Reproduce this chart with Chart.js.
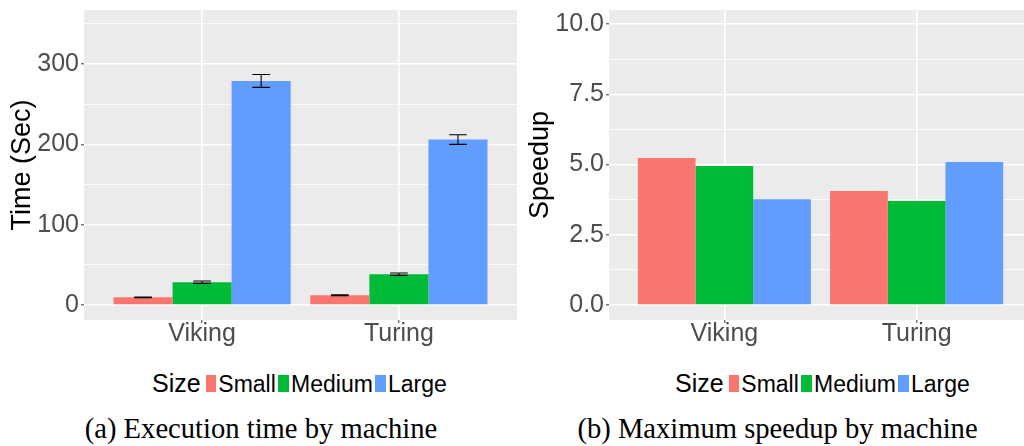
<!DOCTYPE html>
<html><head><meta charset="utf-8">
<script src="https://cdn.jsdelivr.net/npm/chart.js@4"></script>
<style>
html,body{margin:0;padding:0;background:#fff;width:1024px;height:446px;overflow:hidden;position:relative;font-family:"Liberation Sans",Arial,sans-serif}
canvas{position:absolute;top:0}
#c1{left:0}
#c2{left:520px}
.legend{position:absolute;top:371px;display:flex;align-items:baseline;line-height:1;white-space:nowrap;color:#000}
.legend .t{font-size:25px;margin-right:5px}
.legend .k{display:inline-block;width:10.7px;height:17px;margin-right:2px}
.legend .l{font-size:23px;margin-right:2.5px}
.cap{position:absolute;top:415.3px;font-family:"Liberation Serif","Times New Roman",serif;font-size:28.6px;line-height:1;white-space:nowrap;transform:translateX(-50%);color:#000}
</style></head><body>
<canvas id="c1" width="520" height="360"></canvas>
<canvas id="c2" width="520" height="360"></canvas>
<div class="legend" id="lg1" style="left:152px"></div>
<div class="legend" id="lg2" style="left:675px"></div>
<div class="cap" style="left:261px">(a) Execution time by machine</div>
<div class="cap" style="left:777.5px">(b) Maximum speedup by machine</div>
<script>
const machines = ['Viking', 'Turing'];
const sizes = ['Small', 'Medium', 'Large'];
const sizeColors = ['#F8766D', '#00BA38', '#619CFF'];
const legendTitle = 'Size';

const timeSmall = [9.6, 12.1];
const timeMedium = [28.4, 38.4];
const timeLarge = [279, 206];
const timeErrSmall = [0.4, 0.5];
const timeErrMedium = [1.5, 1.5];
const timeErrLarge = [8, 6];

const speedupSmall = [5.23, 4.06];
const speedupMedium = [4.95, 3.70];
const speedupLarge = [3.77, 5.09];

const timeTicks = [0, 50, 100, 150, 200, 250, 300, 350];
const timeTickLabels = ['0', '', '100', '', '200', '', '300', ''];
const speedupTicks = [0, 1.25, 2.5, 3.75, 5, 6.25, 7.5, 8.75, 10];
const speedupTickLabels = ['0.0', '', '2.5', '', '5.0', '', '7.5', '', '10.0'];

const FONT = '"Liberation Sans", Arial, sans-serif';

function panelBg() {
  return {
    id: 'panelBg',
    beforeDraw(chart) {
      const a = chart.chartArea, ctx = chart.ctx;
      ctx.save();
      ctx.fillStyle = '#EBEBEB';
      ctx.fillRect(a.left, a.top, a.right - a.left, a.bottom - a.top);
      ctx.restore();
    }
  };
}

function errorBarPlugin(errs) {
  return {
    id: 'errorBars',
    afterDatasetsDraw(chart) {
      if (!errs) return;
      const ctx = chart.ctx, y = chart.scales.y;
      ctx.save();
      ctx.strokeStyle = '#000';
      ctx.lineWidth = 1.1;
      chart.data.datasets.forEach((ds, di) => {
        const meta = chart.getDatasetMeta(di);
        meta.data.forEach((bar, i) => {
          const v = ds.data[i].y, e = errs[di][i];
          const x = bar.x, hw = bar.width * 0.15;
          const yt = y.getPixelForValue(v + e), yb = y.getPixelForValue(v - e);
          ctx.beginPath();
          ctx.moveTo(x - hw, yt); ctx.lineTo(x + hw, yt);
          ctx.moveTo(x, yt); ctx.lineTo(x, yb);
          ctx.moveTo(x - hw, yb); ctx.lineTo(x + hw, yb);
          ctx.stroke();
        });
      });
      ctx.restore();
    }
  };
}

function makeChart(id, series, errs, yMin, yMax, yTicks, yLabels, yTitle, padRight, yAxisWidth, titlePad) {
  const isMajor = (i) => yLabels[i] !== '';
  return new Chart(document.getElementById(id), {
    type: 'bar',
    data: {
      datasets: series.map((vals, si) => ({
        label: sizes[si],
        data: machines.map((m, i) => ({ x: i + 1, y: vals[i] })),
        backgroundColor: sizeColors[si],
        borderWidth: 0,
        categoryPercentage: 0.9,
        barPercentage: 1.0
      }))
    },
    options: {
      responsive: false,
      animation: false,
      devicePixelRatio: 1,
      layout: { padding: { left: 0, right: padRight, top: 10, bottom: 0 } },
      plugins: { legend: { display: false }, tooltip: { enabled: false } },
      scales: {
        x: {
          type: 'linear', min: 0.4, max: 2.6, offset: false,
          afterBuildTicks: s => { s.ticks = machines.map((m, i) => ({ value: i + 1 })); },
          ticks: {
            callback: (v, i) => machines[i],
            color: '#4D4D4D', font: { size: 25, family: FONT },
            padding: -4, maxRotation: 0, autoSkip: false
          },
          grid: { offset: false, color: '#FFFFFF', lineWidth: 1.6, tickLength: 3, tickColor: '#333333', tickWidth: 1 },
          border: { display: false },
          afterFit: s => { s.height = 40; s.paddingLeft = 0; s.paddingRight = 0; }
        },
        y: {
          min: yMin, max: yMax,
          afterBuildTicks: s => { s.ticks = yTicks.map(v => ({ value: v })); },
          ticks: {
            callback: (v, i) => yLabels[i],
            color: '#4D4D4D', font: { size: 25, family: FONT },
            padding: 2, autoSkip: false
          },
          grid: {
            offset: false,
            color: '#FFFFFF',
            lineWidth: c => isMajor(c.index) ? 1.6 : 0.8,
            tickLength: 3,
            tickColor: c => isMajor(c.index) ? '#333333' : 'rgba(0,0,0,0)',
            tickWidth: 1
          },
          border: { display: false },
          title: {
            display: true, text: yTitle, color: '#000000',
            font: { size: 27, family: FONT },
            padding: { top: titlePad, bottom: 0 }
          },
          afterFit: s => { s.width = yAxisWidth; s.paddingTop = 0; s.paddingBottom = 0; }
        }
      }
    },
    plugins: [panelBg(), errorBarPlugin(errs)]
  });
}

makeChart('c1', [timeSmall, timeMedium, timeLarge], [timeErrSmall, timeErrMedium, timeErrLarge],
  -18.7, 367.3, timeTicks, timeTickLabels, 'Time (Sec)', 3, 84, 6.5);
makeChart('c2', [speedupSmall, speedupMedium, speedupLarge], null,
  -0.53, 10.5, speedupTicks, speedupTickLabels, 'Speedup', 8, 89, 4.4);

function buildLegend(elId) {
  const el = document.getElementById(elId);
  const t = document.createElement('span');
  t.className = 't'; t.textContent = legendTitle; el.appendChild(t);
  sizes.forEach((s, i) => {
    const k = document.createElement('span');
    k.className = 'k'; k.style.background = sizeColors[i]; el.appendChild(k);
    const l = document.createElement('span');
    l.className = 'l'; l.textContent = s; el.appendChild(l);
  });
}
buildLegend('lg1');
buildLegend('lg2');
</script>
</body></html>
